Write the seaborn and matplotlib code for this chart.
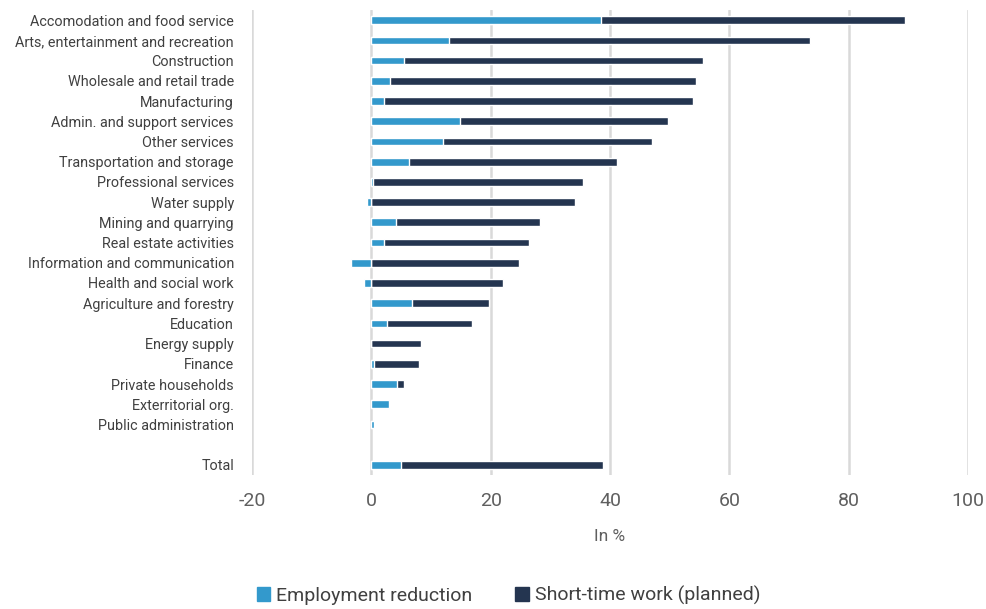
import matplotlib
matplotlib.use("Agg")
import matplotlib.pyplot as plt
import seaborn as sns
import pandas as pd
import numpy as np
from matplotlib.patches import Patch

sectors = [
    "Accomodation and food service", "Arts, entertainment and recreation", "Construction",
    "Wholesale and retail trade", "Manufacturing", "Admin. and support services",
    "Other services", "Transportation and storage", "Professional services",
    "Water supply", "Mining and quarrying", "Real estate activities",
    "Information and communication", "Health and social work", "Agriculture and forestry",
    "Education", "Energy supply", "Finance", "Private households",
    "Exterritorial org.", "Public administration", " ", "Total",
]
employment_reduction = [38.5, 13.1, 5.4, 3.1, 2.1, 14.8, 12.0, 6.3, 0.2, -0.7, 4.1, 2.1,
                        -3.4, -1.2, 6.8, 2.6, 0.0, 0.4, 4.3, 2.9, 0.5, np.nan, 5.0]
short_time_work = [50.9, 60.4, 50.2, 51.3, 51.9, 35.0, 35.0, 34.9, 35.3, 34.1, 24.2, 24.3,
                   24.8, 22.0, 12.9, 14.2, 8.4, 7.6, 1.1, 0.1, 0.0, np.nan, 33.9]
x_ticks = [-20, 0, 20, 40, 60, 80, 100]
x_tick_labels = ["-20", "0", "20", "40", "60", "80", "100"]

df = pd.DataFrame({"sector": sectors, "emp": employment_reduction, "stw": short_time_work})
df["dark_end"] = df["emp"].clip(lower=0) + df["stw"]

BLUE = "#3399CC"
DARK = "#243550"
TXT = "#404040"
GREY = "#5f5f5f"

sns.set_theme(style="white")
plt.rcParams["font.family"] = ["Roboto", "DejaVu Sans"]

fig = plt.figure(figsize=(9.87, 6.09), dpi=100)
ax = fig.add_axes([0.2553, 0.22, 0.7254, 0.7635])

sns.barplot(data=df, x="dark_end", y="sector", order=sectors, color=DARK,
            width=0.38, ax=ax, orient="h", saturation=1, errorbar=None)
sns.barplot(data=df, x="emp", y="sector", order=sectors, color=BLUE,
            width=0.38, ax=ax, orient="h", saturation=1, errorbar=None)

ax.set_xlim(-20, 100)
ax.set_ylim(22.5, -0.5)
ax.set_xticks(x_ticks)
ax.set_xticklabels(x_tick_labels)
ax.grid(axis="x", color="#d9d9d9", linewidth=1.8)
ax.set_axisbelow(True)
for s in ax.spines.values():
    s.set_visible(False)
ax.tick_params(axis="x", labelsize=14, colors=GREY, pad=12, length=0)
ax.tick_params(axis="y", labelsize=10.4, colors=TXT, pad=13, length=0)
ax.set_ylabel("")
ax.set_xlabel("In %", fontsize=12.5, color=GREY, labelpad=14)

handles = [Patch(color=BLUE, label="Employment reduction"),
           Patch(color=DARK, label="Short-time work (planned)")]
fig.legend(handles=handles, loc="center", bbox_to_anchor=(0.515, 0.022), ncol=2,
           frameon=False, fontsize=14, handlelength=0.7, handleheight=0.7,
           handletextpad=0.3, columnspacing=2.2, labelcolor=TXT)

fig.savefig("out.png", dpi=100)
